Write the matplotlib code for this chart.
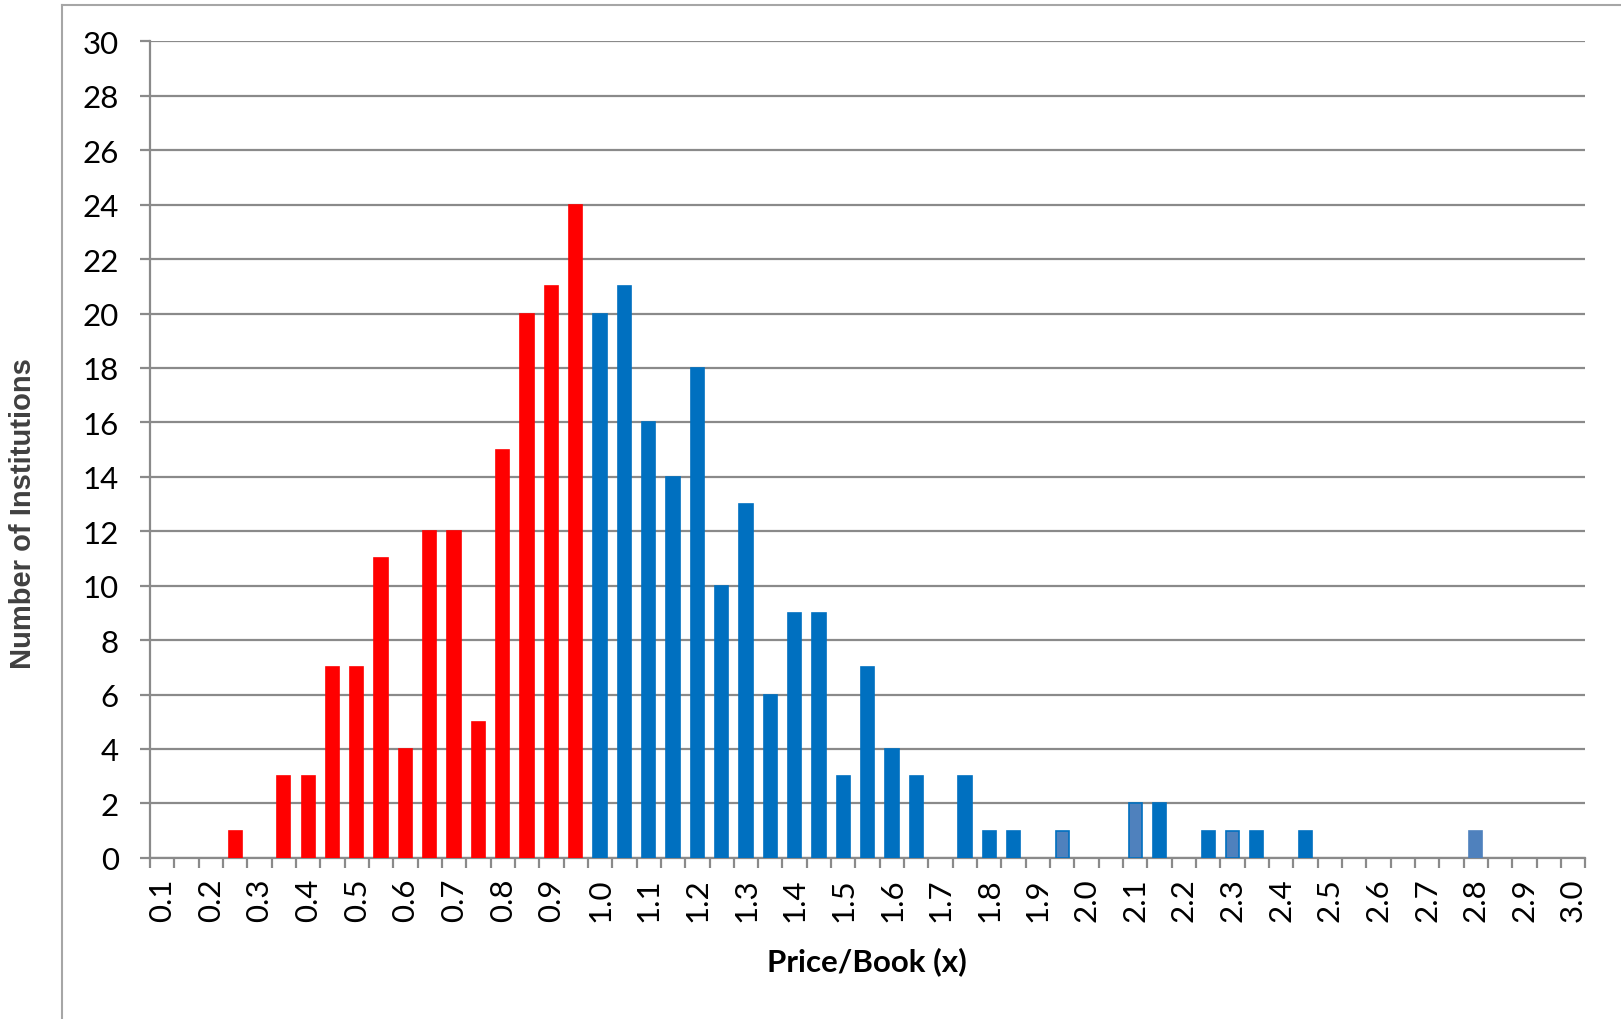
import numpy as np
import matplotlib.pyplot as plt
from matplotlib.lines import Line2D

# price/book bucket (bar centre) and number of institutions in it
pb_ratio = [0.25, 0.35, 0.40, 0.45, 0.50, 0.55, 0.60, 0.65, 0.70, 0.75,
            0.80, 0.85, 0.90, 0.95,
            1.00, 1.05, 1.10, 1.15, 1.20, 1.25, 1.30, 1.35, 1.40, 1.45,
            1.50, 1.55, 1.60, 1.65, 1.75, 1.80, 1.85, 1.95, 2.10, 2.15,
            2.25, 2.30, 2.35, 2.45, 2.80]
institutions = [1, 3, 3, 7, 7, 11, 4, 12, 12, 5,
                15, 20, 21, 24,
                20, 21, 16, 14, 18, 10, 13, 6, 9, 9,
                3, 7, 4, 3, 3, 1, 1, 1, 2, 2,
                1, 1, 1, 1, 1]
x_labels = ['0.1', '0.2', '0.3', '0.4', '0.5', '0.6', '0.7', '0.8', '0.9', '1.0',
            '1.1', '1.2', '1.3', '1.4', '1.5', '1.6', '1.7', '1.8', '1.9', '2.0',
            '2.1', '2.2', '2.3', '2.4', '2.5', '2.6', '2.7', '2.8', '2.9', '3.0']
y_ticks = list(range(0, 31, 2))

RED = '#FF0000'
BLUE = '#0070C0'
PALE = '#4F81BD'
GRID = '#8A8A8A'
pale_bars = [1.95, 2.10, 2.30, 2.80]

fig = plt.figure(figsize=(16.21, 10.20), dpi=100)
ax = fig.add_axes([0.0925, 0.158, 0.8855, 0.8004])

faces, edges = [], []
for p in pb_ratio:
    if p < 1.0:
        faces.append(RED); edges.append(RED)
    elif any(abs(p - q) < 1e-9 for q in pale_bars):
        faces.append(PALE); edges.append(BLUE if p < 2.5 else PALE)
    else:
        faces.append(BLUE); edges.append(BLUE)

ax.bar(pb_ratio, institutions, width=0.027, color=faces, edgecolor=edges,
       linewidth=1.2, zorder=3)

ax.set_xlim(0.075, 3.025)
ax.set_ylim(0, 30)

# labels sit in the middle of every other bucket, tick marks on bucket edges
label_pos = [float(s) for s in x_labels]
ax.set_xticks(label_pos)
ax.set_xticklabels(x_labels, rotation=90, fontsize=22.5, family='Lato')
ax.set_xticks(np.arange(0.075, 3.03, 0.05), minor=True)
ax.tick_params(axis='x', which='major', length=0, pad=14)
ax.tick_params(axis='x', which='minor', length=7.5, width=1.6, color=GRID)

ax.set_yticks(y_ticks)
ax.set_yticklabels([str(v) for v in y_ticks], fontsize=22.5, family='Lato')
ax.tick_params(axis='y', length=7.5, width=1.6, color=GRID, pad=15)

ax.yaxis.grid(True, color=GRID, linewidth=1.6)
ax.set_axisbelow(True)
for side in ['top', 'right']:
    ax.spines[side].set_visible(False)
for side in ['left', 'bottom']:
    ax.spines[side].set_color(GRID)
    ax.spines[side].set_linewidth(1.6)

fig.text(867 / 1621, 1 - 962 / 1020, 'Price/Book (x)', fontsize=22.5,
         fontweight='bold', family='Lato', ha='center', va='center')
fig.text(23 / 1621, 1 - 514 / 1020, 'Number of Institutions', fontsize=21,
         fontweight='bold', family='Liberation Sans', color='#404040',
         rotation=90, ha='center', va='center')

# outer chart frame
fx, fy = 62 / 1621, 1 - 5.5 / 1020
fig.add_artist(Line2D([fx, fx], [0, fy], transform=fig.transFigure,
                      color='#A6A6A6', linewidth=1.5))
fig.add_artist(Line2D([fx, 1], [fy, fy], transform=fig.transFigure,
                      color='#A6A6A6', linewidth=1.5))

fig.savefig('out.png', dpi=100)
